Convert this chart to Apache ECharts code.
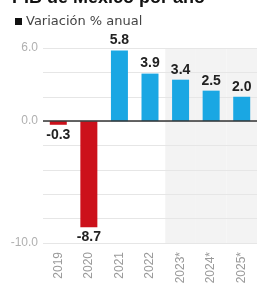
<!DOCTYPE html>
<html><head><meta charset="utf-8">
<script src="https://cdn.jsdelivr.net/npm/echarts@6/dist/echarts.min.js"></script>
<style>html,body{margin:0;padding:0;background:#fff}#c{width:257px;height:290px}</style>
</head><body><div id="c"></div>
<script>
const categories = ['2019','2020','2021','2022','2023*','2024*','2025*'];
const values = [-0.3, -8.7, 5.8, 3.9, 3.4, 2.5, 2.0];
const forecastTop = [null, null, null, null, 6, 6, 6];
const forecastBottom = [null, null, null, null, -10, -10, -10];
const yTickLabels = [6, 0, -10];
const seriesName = 'Variación % anual';
const titleText = 'PIB de México por año';

const chart = echarts.init(document.getElementById('c'), null, {renderer:'canvas'});
chart.setOption({
  animation:false,
  backgroundColor:'#fff',
  graphic:[{type:'text',left:12,top:-11,silent:true,
    style:{text:titleText,fontFamily:'Liberation Sans',fontWeight:'bold',fontSize:18,fill:'#111'}}],
  legend:{left:10,top:10,itemWidth:7,itemHeight:7,itemGap:5,icon:'rect',
    data:[{name:seriesName,itemStyle:{color:'#111'}}],
    textStyle:{fontFamily:'DejaVu Sans',fontSize:13,color:'#444',padding:[0,0,0,-1]}},
  grid:{left:43,top:48,width:217,bottom:47,containLabel:false},
  xAxis:[
    {type:'category',data:categories,position:'bottom',axisLine:{show:false,onZero:false},axisTick:{show:false},
     axisLabel:{rotate:90,margin:9,fontFamily:'Liberation Sans',fontSize:12,color:'#9a9a9a'}},
    {type:'category',data:categories,show:false,boundaryGap:true}
  ],
  yAxis:{type:'value',min:-10,max:6,interval:2,
    axisLine:{show:false},axisTick:{show:false},
    splitLine:{lineStyle:{color:'#e6e6e6',width:1}},
    axisLabel:{margin:5,fontFamily:'Liberation Sans',fontSize:12,color:'#b0b0b0',
      formatter:v=>yTickLabels.includes(v)?v.toFixed(1):''}},
  series:[
    {type:'bar',xAxisIndex:1,stack:'shade',data:forecastTop,barWidth:'100%',silent:true,z:-1,
     itemStyle:{color:'#f3f3f3'},legendHoverLink:false},
    {type:'bar',xAxisIndex:1,stack:'shade',data:forecastBottom,barWidth:'100%',silent:true,z:-1,
     itemStyle:{color:'#f3f3f3'},legendHoverLink:false},
    {name:seriesName,type:'bar',xAxisIndex:0,barWidth:17,
     data:values.map(v=>({value:v,itemStyle:{color:v<0?'#cc111b':'#1aa7e3'},
       label:{position:v<0?'bottom':'top'}})),
     label:{show:true,distance:3,fontFamily:'Liberation Sans',fontWeight:'bold',fontSize:14,color:'#222',
       formatter:p=>p.value.toFixed(1)},
     markLine:{silent:true,symbol:'none',label:{show:false},
       lineStyle:{color:'#333',width:1.5,type:'solid'},data:[{yAxis:0}]}}
  ]
});
</script></body></html>
